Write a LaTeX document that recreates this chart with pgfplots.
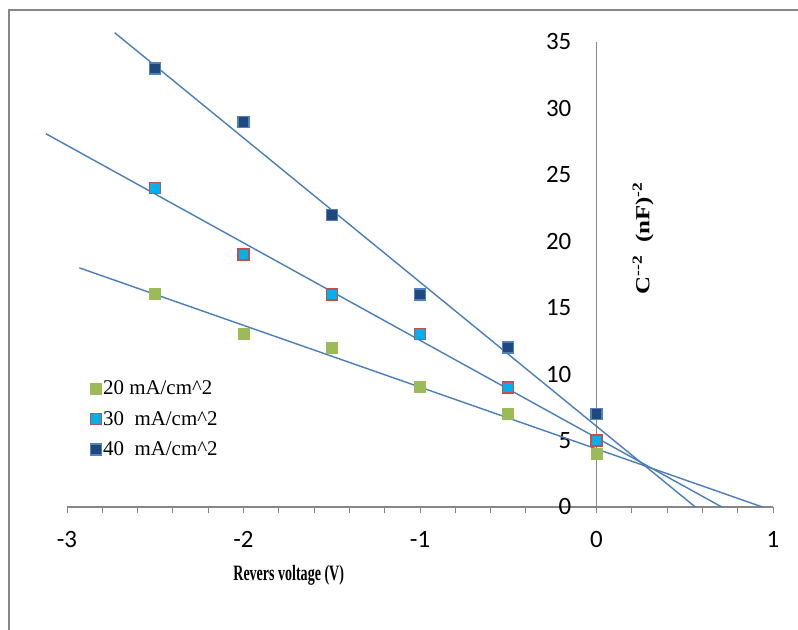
\documentclass[border=0pt]{standalone}
\usepackage{fontspec}
\setmainfont{Liberation Serif}
\newfontfamily\carlito{Carlito}
\usepackage{graphicx}
\usepackage{pgfplots}
\pgfplotsset{compat=1.18}

\definecolor{axgray}{HTML}{868686}
\definecolor{trend}{HTML}{4A7EBB}
\definecolor{gA}{HTML}{9BBB59}
\definecolor{cB}{HTML}{00B0F0}
\definecolor{rB}{HTML}{C0504D}
\definecolor{dC}{HTML}{1F497D}
\definecolor{bC}{HTML}{4F81BD}

\begin{document}
\begin{tikzpicture}
\useasboundingbox (0,0) rectangle (798bp,630bp);
\fill[white] (0,0) rectangle (798bp,630bp);
% chart frame (only top and left edges fall inside the picture)
\draw[axgray, line width=1.2bp] (9bp,0bp) -- (9bp,620bp) -- (798bp,620bp);
\begin{axis}[
    at={(67bp,123bp)}, anchor=south west,
    scale only axis, width=706bp, height=465bp,
    xmin=-3, xmax=1, ymin=0, ymax=35,
    axis x line=bottom, axis y line=middle,
    axis line style={axgray, line width=1.2bp, -},
    clip=false,
    hide obscured x ticks=false, hide obscured y ticks=false,
    xtick={-3,-2,-1,0,1}, xticklabels={-3,-2,-1,0,1},
    minor x tick num=4,
    tick align=outside,
    major tick length=6bp, minor tick length=6bp,
    x tick style={axgray, line width=1bp},
    ytick={0,5,...,35}, yticklabels={0,5,10,15,20,25,30,35},
    y tick style={draw=none},
    xticklabel style={font=\carlito\fontsize{25}{30}\selectfont, anchor=north, inner sep=0pt, yshift=-18bp},
    yticklabel style={font=\carlito\fontsize{25}{30}\selectfont, anchor=east, inner sep=0pt, xshift=-19bp},
    legend style={at={(rel axis cs:0.029,0.189)}, anchor=west, draw=none, fill=none,
        font=\fontsize{21}{25}\selectfont, row sep=12bp, nodes={inner sep=1.5bp}},
    legend cell align=left,
    legend image code/.code={\draw[#1] plot coordinates {(0bp,0bp)};},
]
\addplot[only marks, mark=square*, mark size=5.5bp,
    mark options={fill=gA, draw=gA, line width=1bp}] coordinates {
    (-2.5,16) (-2,13) (-1.5,12) (-1,9) (-0.5,7) (0,4)};
\addplot[only marks, mark=square*, mark size=5.5bp,
    mark options={fill=cB, draw=rB, line width=1.3bp}] coordinates {
    (-2.5,24) (-2,19) (-1.5,16) (-1,13) (-0.5,9) (0,5)};
\addplot[only marks, mark=square*, mark size=5.5bp,
    mark options={fill=dC, draw=bC, line width=1.3bp}] coordinates {
    (-2.5,33) (-2,29) (-1.5,22) (-1,16) (-0.5,12) (0,7)};
\legend{20 mA/cm\textasciicircum 2, 30\ \ mA/cm\textasciicircum 2, 40\ \ mA/cm\textasciicircum 2}

% linear trendlines
\addplot[trend, line width=1.4bp, forget plot] coordinates {(-2.93,18.0) (0.94,0)};
\addplot[trend, line width=1.4bp, forget plot] coordinates {(-3.12,28.1) (0.71,0)};
\addplot[trend, line width=1.4bp, forget plot] coordinates {(-2.73,35.7) (0.56,0)};

\node[font=\bfseries\fontsize{22}{26}\selectfont] at (rel axis cs:0.314,-0.146)
    {\scalebox{0.64}[1]{Revers voltage (V)}};
\node[rotate=90, font=\bfseries\fontsize{20}{24}\selectfont] at (rel axis cs:0.816,0.578)
    {\scalebox{1.25}[1]{C\textsuperscript{-{}-2}\ \ (nF)\textsuperscript{-2}}};
\end{axis}
\end{tikzpicture}
\end{document}
